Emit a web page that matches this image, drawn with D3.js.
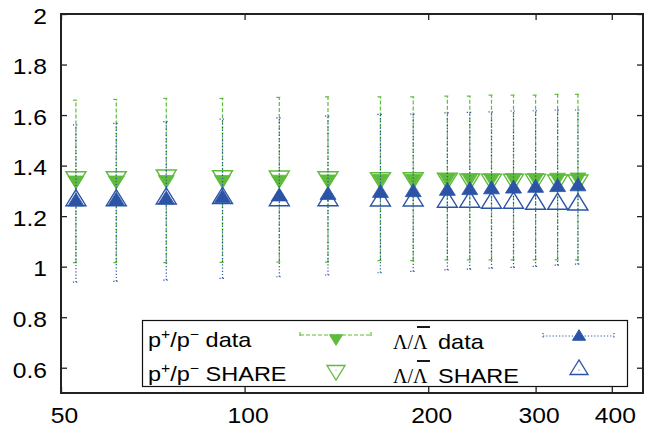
<!DOCTYPE html>
<html><head><meta charset="utf-8">
<script src="https://cdn.jsdelivr.net/npm/d3@7"></script>
<style>body{margin:0;background:#fff}svg{display:block}</style>
</head><body>
<script>
// ---- data ----
const npart  = [52.9, 61.6, 74.4, 92, 114, 137, 167, 189, 215, 234, 254, 276, 300, 326, 352];
const pData  = [1.343,1.343,1.345,1.345,1.346,1.347,1.349,1.350,1.351,1.352,1.352,1.353,1.353,1.354,1.355];
const pLow   = [1.016,1.016,1.016,1.017,1.018,1.018,1.024,1.024,1.027,1.027,1.027,1.027,1.027,1.027,1.027];
const pHigh  = [1.659,1.662,1.666,1.666,1.670,1.672,1.672,1.672,1.675,1.675,1.679,1.679,1.679,1.682,1.682];
const pShare = [1.356,1.356,1.363,1.360,1.359,1.356,1.352,1.352,1.350,1.347,1.346,1.346,1.346,1.343,1.343];
const lData  = [1.256,1.259,1.264,1.270,1.276,1.282,1.290,1.293,1.298,1.301,1.304,1.307,1.310,1.313,1.316];
const lLow   = [0.939,0.942,0.947,0.954,0.960,0.967,0.976,0.981,0.987,0.990,0.994,0.997,1.001,1.006,1.010];
const lHigh  = [1.561,1.567,1.574,1.584,1.589,1.596,1.603,1.604,1.609,1.611,1.613,1.616,1.617,1.620,1.620];
const lShare = [1.261,1.261,1.268,1.270,1.261,1.261,1.260,1.260,1.255,1.255,1.251,1.251,1.247,1.247,1.244];
const xTicks = [50, 100, 200, 300, 400];
const yTicks = [0.6, 0.8, 1, 1.2, 1.4, 1.6, 1.8, 2];

const W = 661, H = 432;
const L = 61, R = 643, T = 14, B = 393;
const GREEN = "#5fbb3c", BLUE = "#2b54a6";
const SX = 1.12;

const svg = d3.select("body").append("svg").attr("width", W).attr("height", H)
  .style("font-family", "'Liberation Sans', Arial, sans-serif");

const x = d3.scaleLog().domain([50, 450]).range([L, R]);
const y = d3.scaleLinear().domain([0.5, 2]).range([B, T]);

// axes
const ax = (g, fn) => { g.call(fn); g.select(".domain").remove(); g.selectAll(".tick line").attr("stroke", "#222").attr("stroke-width", 1.3); };

svg.append("g").attr("transform", `translate(0,${B})`)
  .call(g => ax(g, d3.axisBottom(x).tickValues(xTicks).tickFormat(d3.format("d")).tickSize(-6).tickPadding(14)))
  .call(g => g.selectAll("text").attr("fill", "#000").attr("font-size", 22).attr("x", 3 / SX).attr("transform", `scale(${SX},1)`));
svg.append("g").attr("transform", `translate(0,${T})`)
  .call(g => ax(g, d3.axisTop(x).tickValues(xTicks).tickFormat("").tickSize(-6)));
svg.append("g").attr("transform", `translate(${L},0)`)
  .call(g => ax(g, d3.axisLeft(y).tickValues(yTicks).tickFormat(d3.format("")).tickSize(-6).tickPadding(14)))
  .call(g => g.selectAll("text").attr("fill", "#000").attr("font-size", 22).attr("dy", 9.3).attr("x", -14 / SX).attr("transform", `scale(${SX},1)`));
svg.append("g").attr("transform", `translate(${R},0)`)
  .call(g => ax(g, d3.axisRight(y).tickValues(yTicks).tickFormat("").tickSize(-6)));

// markers
const triUp = s => `M0,${-1.12*s}L${s},${0.5*s}L${-s},${0.5*s}Z`;
const triDn = s => `M0,${1.12*s}L${s},${-0.5*s}L${-s},${-0.5*s}Z`;

function errBars(vals, lo, hi, color, dash) {
  const g = svg.append("g").attr("stroke", color).attr("stroke-width", 1.2).attr("stroke-dasharray", dash).attr("fill", "none");
  npart.forEach((n, i) => {
    const cx = x(n);
    g.append("line").attr("x1", cx).attr("x2", cx).attr("y1", y(lo[i])).attr("y2", y(hi[i]));
    g.append("line").attr("x1", cx - 3).attr("x2", cx + 3).attr("y1", y(lo[i])).attr("y2", y(lo[i]));
    g.append("line").attr("x1", cx - 3).attr("x2", cx + 3).attr("y1", y(hi[i])).attr("y2", y(hi[i]));
  });
}
function marks(vals, path, filled, color) {
  const g = svg.append("g");
  npart.forEach((n, i) => {
    const t = g.append("g").attr("transform", `translate(${x(n)},${y(vals[i])})`);
    t.append("path").attr("d", path)
      .attr("fill", filled ? color : "none").attr("stroke", color).attr("stroke-width", filled ? 0.8 : 1.4);
    if (!filled) t.append("circle").attr("r", 0.6).attr("fill", color);
  });
}

errBars(pData, pLow, pHigh, GREEN, "4,2");
marks(pData, triDn(8), true, GREEN);
marks(pShare, triDn(10), false, GREEN);
errBars(lData, lLow, lHigh, BLUE, "1.2,2");
marks(lData, triUp(8), true, BLUE);
marks(lShare, triUp(10), false, BLUE);

// frame
svg.append("rect").attr("x", L).attr("y", T).attr("width", R - L).attr("height", B - T)
  .attr("fill", "none").attr("stroke", "#222").attr("stroke-width", 2);

// legend
const lg = svg.append("g");
lg.append("rect").attr("x", 142.5).attr("y", 320.5).attr("width", 485).attr("height", 66)
  .attr("fill", "#fff").attr("stroke", "#111").attr("stroke-width", 1.2);

function pLabel(xp, yp, word) {
  const t = lg.append("text").attr("transform", `translate(${xp},${yp}) scale(${SX},1)`).attr("font-size", 21).attr("fill", "#000");
  t.append("tspan").text("p");
  t.append("tspan").attr("font-size", 14).attr("dy", -8).text("+");
  t.append("tspan").attr("dy", 8).text("/p");
  t.append("tspan").attr("font-size", 14).attr("dy", -8).text("\u2212");
  t.append("tspan").attr("dy", 8).text(" " + word);
}
function lLabel(xp, yp, word) {
  lg.append("text").attr("x", xp).attr("y", yp).attr("font-size", 20)
    .attr("font-family", "'Liberation Serif', serif").attr("fill", "#000").text("\u039B/\u039B");
  lg.append("line").attr("x1", xp + 24).attr("x2", xp + 37).attr("y1", yp - 22).attr("y2", yp - 22)
    .attr("stroke", "#000").attr("stroke-width", 1.8);
  lg.append("text").attr("transform", `translate(${xp + 45},${yp}) scale(${SX},1)`).attr("font-size", 21)
    .attr("fill", "#000").text(word);
}
pLabel(148, 347, "data");
pLabel(148, 381, "SHARE");
lLabel(393, 349, "data");
lLabel(393, 383, "SHARE");

function sampleLine(x1, x2, yy, color, dash) {
  const g = lg.append("g").attr("stroke", color).attr("stroke-width", 1.2).attr("stroke-dasharray", dash);
  g.append("line").attr("x1", x1).attr("x2", x2).attr("y1", yy).attr("y2", yy);
  g.append("line").attr("x1", x1).attr("x2", x1).attr("y1", yy - 3).attr("y2", yy + 3).attr("stroke-dasharray", null);
  g.append("line").attr("x1", x2).attr("x2", x2).attr("y1", yy - 3).attr("y2", yy + 3).attr("stroke-dasharray", null);
}
sampleLine(300, 371, 335, GREEN, "4,2");
lg.append("path").attr("transform", "translate(336,338)").attr("d", triDn(6.5)).attr("fill", GREEN).attr("stroke", GREEN);
lg.append("path").attr("transform", "translate(336,370)").attr("d", triDn(9)).attr("fill", "none").attr("stroke", GREEN).attr("stroke-width", 1.3);
lg.append("circle").attr("cx", 336).attr("cy", 370).attr("r", 0.6).attr("fill", GREEN);
sampleLine(543, 614, 336, BLUE, "1.2,2");
lg.append("path").attr("transform", "translate(579,337)").attr("d", triUp(6.5)).attr("fill", BLUE).attr("stroke", BLUE);
lg.append("path").attr("transform", "translate(579,370)").attr("d", triUp(9)).attr("fill", "none").attr("stroke", BLUE).attr("stroke-width", 1.3);
lg.append("circle").attr("cx", 579).attr("cy", 370).attr("r", 0.6).attr("fill", BLUE);
</script>
</body></html>
